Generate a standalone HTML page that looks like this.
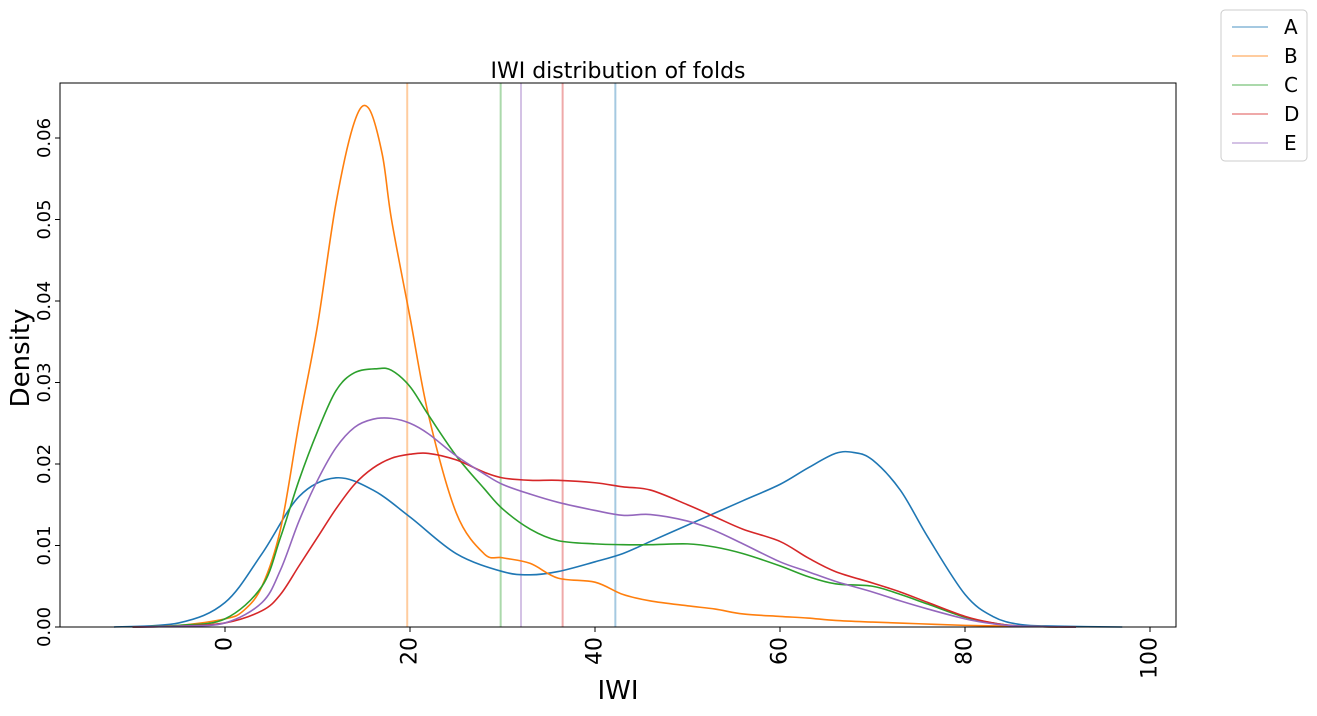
<!DOCTYPE html>
<html><head><meta charset="utf-8"><style>
html,body{margin:0;padding:0;background:#fff;}
svg text{font-family:"DejaVu Sans","Liberation Sans",sans-serif;fill:#000;}
</style></head><body>
<svg id="chart" width="1317" height="711" viewBox="0 0 1317 711" xmlns="http://www.w3.org/2000/svg">
<g id="plot"></g>
<g id="axes"></g>
<g id="legend"></g>
</svg>
<script>
const xTicks=[0,20,40,60,80,100];
const yTicks=[0,0.01,0.02,0.03,0.04,0.05,0.06];
const yTickLabels=["0.00","0.01","0.02","0.03","0.04","0.05","0.06"];
const seriesNames=["A","B","C","D","E"];
const colors=["#1f77b4","#ff7f0e","#2ca02c","#d62728","#9467bd"];
const meanLines=[42.2,19.7,29.8,36.5,32.0];
const xA=[-12,-5,0,4,8,12,16,20,25,30,33,36,40,43,46,50,53,56,60,63,66,68,70,73,76,80,83,86,90,97];
const yA=[0,0.0005,0.003,0.009,0.016,0.0183,0.0168,0.0135,0.009,0.0068,0.0064,0.0068,0.008,0.009,0.0105,0.0125,0.014,0.0155,0.0175,0.0195,0.0213,0.0214,0.0205,0.0168,0.011,0.004,0.0013,0.0003,0.0001,0];
const xB=[-10,-5,0,2,4,6,8,10,12,14,15.5,17,18,20,22,25,28,30,33,36,40,43,46,50,53,56,60,63,66,70,75,80,85,90];
const yB=[0,0.0002,0.001,0.002,0.005,0.012,0.025,0.037,0.052,0.062,0.0637,0.058,0.05,0.038,0.026,0.014,0.009,0.0085,0.0078,0.006,0.0055,0.004,0.0032,0.0026,0.0022,0.0016,0.0013,0.0011,0.0008,0.0006,0.0004,0.0002,0.0001,0];
const xC=[-10,-5,0,4,6,8,10,12,14,16.5,18,20,22,25,28,30,33,36,40,43,46,50,53,56,60,63,66,70,73,76,80,83,86,92];
const yC=[0,0.0002,0.001,0.005,0.011,0.018,0.024,0.029,0.0312,0.0317,0.0315,0.0295,0.026,0.021,0.017,0.0145,0.012,0.0106,0.0102,0.0101,0.0101,0.0102,0.0098,0.009,0.0075,0.0062,0.0053,0.005,0.004,0.0028,0.0012,0.0005,0.0001,0];
const xD=[-10,-5,0,4,6,8,10,12,14,16,18,20,22,25,28,30,33,36,40,43,46,50,53,56,60,63,66,70,73,76,80,83,86,92];
const yD=[0,0.0001,0.0005,0.002,0.004,0.0075,0.011,0.0145,0.0175,0.0195,0.0207,0.0212,0.0213,0.0205,0.019,0.0183,0.018,0.018,0.0177,0.0172,0.0168,0.015,0.0135,0.012,0.0105,0.0085,0.0068,0.0054,0.0043,0.003,0.0013,0.0005,0.0001,0];
const xE=[-10,-5,0,4,6,8,10,12,14,16,18,20,22,25,28,30,33,36,40,43,46,50,53,56,60,63,66,70,73,76,80,83,86,92];
const yE=[0,0.0001,0.0005,0.003,0.007,0.013,0.018,0.022,0.0245,0.0255,0.0256,0.025,0.0237,0.021,0.0188,0.0175,0.0163,0.0153,0.0143,0.0137,0.0138,0.013,0.0118,0.0102,0.008,0.0068,0.0056,0.0043,0.0032,0.0022,0.001,0.0004,0.0001,0];
const seriesX=[xA,xB,xC,xD,xE];
const seriesY=[yA,yB,yC,yD,yE];

const L=60,R=1176,T=83,B=627;
const xScale=v=>225+v*9.25;
const yScale=v=>B-v*8150;
const NS="http://www.w3.org/2000/svg";
function mk(tag,attrs,parent){const e=document.createElementNS(NS,tag);for(const k in attrs)e.setAttribute(k,attrs[k]);parent.appendChild(e);return e;}
const plot=document.getElementById('plot'),axes=document.getElementById('axes'),legend=document.getElementById('legend');

function smoothPath(xs,ys){
  const p=xs.map((x,i)=>[xScale(x),yScale(ys[i])]);
  let d=`M${p[0][0]},${p[0][1]}`;
  for(let i=0;i<p.length-1;i++){
    const p0=p[i-1]||p[i],p1=p[i],p2=p[i+1],p3=p[i+2]||p[i+1];
    const c1=[p1[0]+(p2[0]-p0[0])/6,p1[1]+(p2[1]-p0[1])/6];
    const c2=[p2[0]-(p3[0]-p1[0])/6,p2[1]-(p3[1]-p1[1])/6];
    d+=` C${c1[0]},${Math.min(B,c1[1])} ${c2[0]},${Math.min(B,c2[1])} ${p2[0]},${p2[1]}`;
  }
  return d;
}
meanLines.forEach((m,i)=>{
  const ln=mk('line',{x1:xScale(m),x2:xScale(m),y1:T,y2:B,stroke:colors[i],'stroke-opacity':0.4,'stroke-width':2},plot);
  
  
});
seriesX.forEach((xs,i)=>{
  const pth=mk('path',{d:smoothPath(xs,seriesY[i]),fill:'none',stroke:colors[i],'stroke-width':1.6},plot);
  
  
});
const frame=mk('rect',{x:L,y:T,width:R-L,height:B-T,fill:'none',stroke:'#000','stroke-width':1},axes);


xTicks.forEach(v=>{
  const x=xScale(v);
  mk('line',{x1:x,x2:x,y1:B,y2:B+5,stroke:'#000'},axes);
  const t=mk('text',{x:0,y:0,'font-size':22,'text-anchor':'end','dominant-baseline':'central',transform:`translate(${x},${B+10}) rotate(-90)`},axes);
  t.textContent=v;
  
  
});
yTicks.forEach((v,i)=>{
  const y=yScale(v);
  mk('line',{x1:L-5,x2:L,y1:y,y2:y,stroke:'#000'},axes);
  const t=mk('text',{x:0,y:0,'font-size':18,'text-anchor':'middle',transform:`translate(${L-10},${y}) rotate(-90)`},axes);
  t.textContent=yTickLabels[i];
  
  
});
const title=mk('text',{x:618,y:78,'font-size':22,'text-anchor':'middle'},axes);
title.textContent='IWI distribution of folds';


const xt=mk('text',{x:618,y:699,'font-size':26,'text-anchor':'middle'},axes);
xt.textContent='IWI';


const yt=mk('text',{x:0,y:0,'font-size':26,'text-anchor':'middle',transform:'translate(29,358) rotate(-90)'},axes);
yt.textContent='Density';


const lb=mk('rect',{x:1221,y:10,width:86,height:151,rx:4,fill:'#fff',stroke:'#ccc'},legend);


seriesNames.forEach((n,i)=>{
  const y=27+i*29;
  const g=mk('g',{},legend);
  
  
  mk('line',{x1:1232,x2:1268,y1:y,y2:y,stroke:colors[i],'stroke-opacity':0.4,'stroke-width':2},g);
  const t=mk('text',{x:1284,y:y+7,'font-size':20},g);
  t.textContent=n;
});
</script>
</body></html>
